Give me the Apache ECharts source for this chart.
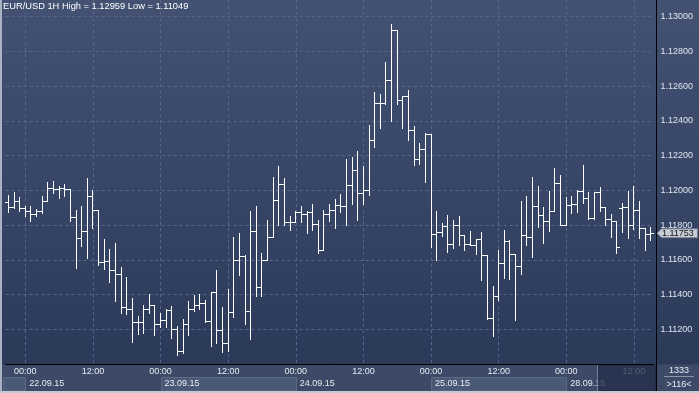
<!DOCTYPE html>
<html><head><meta charset="utf-8">
<script src="https://cdn.jsdelivr.net/npm/echarts@6/dist/echarts.min.js"></script>
<style>html,body{margin:0;padding:0;background:#2c3a5a;overflow:hidden}#c{width:699px;height:393px}</style>
</head><body><div id="c"></div>
<script>
// ---- data ----
const days = ['21.09.15','22.09.15','23.09.15','24.09.15','25.09.15','28.09.15'];
const dayFirstHour = [21, 0, 0, 0, 0, 0];
const dayLastHour  = [23, 23, 23, 23, 23, 15];
const opens = [1.11933,1.11904,1.11937,1.11900,1.11879,1.11865,1.11879,1.11937,1.12013,1.12008,
1.12012,1.12010,1.11846,1.11725,1.11767,1.11967,1.11887,1.11585,1.11592,1.11542,
1.11519,1.11331,1.11315,1.11242,1.11240,1.11317,1.11339,1.11231,1.11254,1.11310,
1.11200,1.11073,1.11231,1.11317,1.11340,1.11354,1.11246,1.11413,1.11196,1.11119,
1.11298,1.11598,1.11623,1.11308,1.11767,1.11444,1.11598,1.11731,1.11946,1.12038,
1.11819,1.11819,1.11877,1.11863,1.11875,1.11808,1.11658,1.11863,1.11889,1.11914,
1.11908,1.12033,1.12117,1.11985,1.12000,1.12292,1.12503,1.12503,1.12635,1.12921,
1.12522,1.12543,1.12349,1.12180,1.12240,1.12326,1.11749,1.11760,1.11795,1.11691,
1.11799,1.11741,1.11691,1.11688,1.11720,1.11626,1.11266,1.11390,1.11582,1.11707,
1.11634,1.11565,1.11745,1.11734,1.11908,1.11858,1.11824,1.11879,1.12042,1.11803,
1.11918,1.11923,1.11994,1.11955,1.11839,1.11991,1.11902,1.11835,1.11822,1.11900,
1.11902,1.11799,1.11885,1.11783,1.11749];
const highs = [1.11971,1.11992,1.11962,1.11908,1.11908,1.11892,1.11969,1.12050,1.12054,1.12027,
1.12035,1.12010,1.11888,1.11908,1.12073,1.12000,1.11887,1.11721,1.11662,1.11698,
1.11558,1.11500,1.11381,1.11279,1.11337,1.11404,1.11339,1.11296,1.11317,1.11333,
1.11221,1.11260,1.11363,1.11396,1.11404,1.11367,1.11415,1.11544,1.11331,1.11433,
1.11733,1.11754,1.11627,1.11879,1.11908,1.11637,1.11827,1.12077,1.12138,1.12071,
1.11850,1.11883,1.11908,1.11883,1.11919,1.11827,1.11885,1.11923,1.11952,1.11981,
1.12182,1.12190,1.12228,1.12138,1.12378,1.12564,1.12556,1.12738,1.12959,1.12921,
1.12545,1.12579,1.12372,1.12272,1.12330,1.12326,1.11883,1.11812,1.11860,1.11831,
1.11851,1.11741,1.11768,1.11722,1.11760,1.11630,1.11448,1.11659,1.11774,1.11713,
1.11634,1.11941,1.11970,1.12079,1.12028,1.11905,1.11994,1.12129,1.12087,1.11962,
1.11966,1.12004,1.12144,1.11989,1.11991,1.12019,1.11902,1.11866,1.11822,1.11927,
1.11994,1.12027,1.11937,1.11783,1.11787];
const lows = [1.11873,1.11898,1.11883,1.11850,1.11825,1.11850,1.11869,1.11937,1.11985,1.11954,
1.11965,1.11823,1.11552,1.11677,1.11612,1.11781,1.11573,1.11548,1.11475,1.11365,
1.11292,1.11289,1.11129,1.11173,1.11181,1.11292,1.11167,1.11215,1.11215,1.11148,
1.11049,1.11062,1.11165,1.11308,1.11319,1.11242,1.11106,1.11119,1.11071,1.11073,
1.11269,1.11515,1.11229,1.11146,1.11389,1.11389,1.11598,1.11731,1.11798,1.11798,
1.11771,1.11819,1.11815,1.11754,1.11773,1.11637,1.11658,1.11822,1.11783,1.11874,
1.11803,1.11922,1.11831,1.11923,1.11975,1.12247,1.12362,1.12497,1.12397,1.12497,
1.12357,1.12292,1.12148,1.12153,1.12046,1.11672,1.11598,1.11736,1.11643,1.11668,
1.11688,1.11659,1.11684,1.11634,1.11482,1.11262,1.11164,1.11371,1.11496,1.11492,
1.11252,1.11519,1.11685,1.11615,1.11787,1.11694,1.11764,1.11879,1.11803,1.11803,
1.11870,1.11874,1.11927,1.11835,1.11835,1.11879,1.11803,1.11732,1.11640,1.11758,
1.11726,1.11778,1.11726,1.11655,1.11712];
const closes = [1.11904,1.11937,1.11900,1.11879,1.11865,1.11879,1.11937,1.12013,1.12008,1.12012,
1.12010,1.11846,1.11725,1.11767,1.11967,1.11887,1.11585,1.11592,1.11542,1.11519,
1.11331,1.11315,1.11242,1.11240,1.11317,1.11339,1.11231,1.11254,1.11310,1.11200,
1.11073,1.11231,1.11317,1.11340,1.11354,1.11246,1.11413,1.11196,1.11119,1.11298,
1.11598,1.11623,1.11308,1.11767,1.11444,1.11598,1.11731,1.11946,1.12038,1.11819,
1.11819,1.11877,1.11863,1.11875,1.11808,1.11658,1.11863,1.11889,1.11914,1.11908,
1.12033,1.12117,1.11985,1.12000,1.12292,1.12503,1.12503,1.12635,1.12921,1.12522,
1.12543,1.12349,1.12180,1.12240,1.12326,1.11749,1.11760,1.11795,1.11691,1.11799,
1.11741,1.11691,1.11688,1.11720,1.11626,1.11266,1.11390,1.11582,1.11707,1.11634,
1.11565,1.11745,1.11734,1.11908,1.11858,1.11824,1.11879,1.12042,1.11803,1.11918,
1.11923,1.11994,1.11955,1.11839,1.11991,1.11902,1.11835,1.11822,1.11674,1.11902,
1.11799,1.11885,1.11783,1.11749,1.11753];
const yMin = 1.110, yMax = 1.132, yStep = 0.002;
const titleText = 'EUR/USD 1H High = 1.12959 Low = 1.11049';
const lastPriceText = '1.11753';
const infoTop = '1333', infoBottom = '>116<';

// ---- categories ----
const cats = [], catDay = [], catHour = [];
days.forEach((d, k) => {
  for (let h = dayFirstHour[k]; h <= dayLastHour[k]; h++) {
    cats.push(d + ' ' + (h < 10 ? '0' + h : h) + ':00');
    catDay.push(d); catHour.push(h);
  }
});
const ohlc = opens.map((o, i) => [i, o, highs[i], lows[i], closes[i]]);

const FONT = 'Liberation Sans, Arial, sans-serif';
const GRID = '#566789';

function renderItem(params, api) {
  const i = api.value(0);
  const ph = api.coord([i, api.value(2)]);
  const pl = api.coord([i, api.value(3)]);
  const po = api.coord([i, api.value(1)]);
  const pc = api.coord([i, api.value(4)]);
  const px = Math.floor(ph[0]);
  const st = { stroke: '#ffffff', lineWidth: 1 };
  const yo = Math.round(po[1]) + 0.5, yc = Math.round(pc[1]) + 0.5;
  return { type: 'group', children: [
    { type: 'line', shape: { x1: px + 0.5, y1: Math.round(ph[1]), x2: px + 0.5, y2: Math.round(pl[1]) + 1 }, style: st },
    { type: 'line', shape: { x1: px - 3, y1: yo, x2: px + 1, y2: yo }, style: st },
    { type: 'line', shape: { x1: px, y1: yc, x2: px + 4, y2: yc }, style: st }
  ]};
}

const chart = echarts.init(document.getElementById('c'), null, { renderer: 'canvas' });
chart.setOption({
  animation: false,
  backgroundColor: { type: 'linear', x: 0, y: 0, x2: 0, y2: 1, colorStops: [
    { offset: 0, color: '#435273' }, { offset: 0.92, color: '#2c3a5a' }, { offset: 1, color: '#2c3a5a' } ] },
  title: { text: titleText, left: 3, top: 2, padding: 0,
    textStyle: { color: '#ffffff', fontSize: 9.3, fontWeight: 'normal', fontFamily: FONT } },
  grid: { left: 5.58, right: 45.4, top: -18, bottom: 29, outerBoundsMode: 'none', containLabel: false },
  xAxis: [
    { type: 'category', data: cats, boundaryGap: true, z: 0,
      axisLine: { show: true, lineStyle: { color: '#000000', width: 1 } },
      axisTick: { show: false },
      axisLabel: { interval: (idx) => catHour[idx] % 12 === 0,
        formatter: (v, idx) => (catHour[idx] < 10 ? '0' + catHour[idx] : catHour[idx]) + ':00',
        color: '#e6ebf3', fontSize: 9, margin: 3, fontFamily: FONT },
      splitLine: { show: true, interval: (idx) => catHour[idx] % 12 === 0, alignWithLabel: true,
        lineStyle: { color: GRID, width: 1, type: [3, 3] } } },
    { type: 'category', data: cats, boundaryGap: true, position: 'bottom', z: 0,
      axisLine: { show: false }, axisTick: { show: false }, splitLine: { show: false },
      axisLabel: { interval: (idx) => catHour[idx] === 0,
        formatter: (v, idx) => catDay[idx], align: 'left', padding: [0, 0, 0, 4],
        color: '#e6ebf3', fontSize: 9, margin: 15, fontFamily: FONT } }
  ],
  yAxis: { type: 'value', position: 'right', min: yMin, max: yMax, interval: yStep, offset: 2.9, z: 0,
    axisLine: { show: true, lineStyle: { color: '#000000', width: 1 } },
    axisTick: { show: false },
    axisLabel: { formatter: (v) => v.toFixed(5), color: '#dfe5ef', fontSize: 9, margin: 4,
      showMinLabel: false, showMaxLabel: false, fontFamily: FONT },
    splitLine: { show: true, lineStyle: { color: GRID, width: 1, type: [3, 3] } } },
  series: [{ type: 'custom', renderItem: renderItem, data: ohlc, xAxisIndex: 0, yAxisIndex: 0,
    encode: { x: 0, y: [1, 2, 3, 4] }, clip: false, z: 3 }]
});

// ---- decorations positioned from the chart's own scales ----
const xAt = (i) => chart.convertToPixel({ xAxisIndex: 0 }, i);
const yAt = (v) => chart.convertToPixel({ yAxisIndex: 0 }, v);
const yBase = yAt(yMin);
const dayStart = [];
catHour.forEach((h, i) => { if (h === 0) dayStart.push(i); });
const boxes = [];
boxes.push([3, xAt(dayStart[0])]);
[1, 3].forEach((k) => { boxes.push([xAt(dayStart[k]), xAt(dayStart[k + 1])]); });
const lastY = yAt(closes[closes.length - 1]);
const axisX = 656;
const gfx = [
  { type: 'rect', z: -10, shape: { x: 0, y: yBase + 0.5, width: 699, height: 393 - yBase }, style: { fill: '#3c4a67' } },
];
boxes.forEach((b) => {
  gfx.push({ type: 'rect', z: -9, shape: { x: Math.round(b[0]) + 0.5, y: 377.5, width: Math.round(b[1] - b[0]), height: 13.5 },
    style: { fill: '#4a5976', stroke: '#5b6985', lineWidth: 1 } });
});
gfx.push(
  { type: 'rect', z: 100, shape: { x: 597.5, y: 365.5, width: axisX - 598, height: 25 }, style: { fill: 'rgba(36,47,74,0.78)', stroke: '#222c45', lineWidth: 1 } },
  { type: 'line', z: 100, shape: { x1: 597.5, y1: 365, x2: 597.5, y2: 391 }, style: { stroke: '#6f7c96', lineWidth: 1 } },
  { type: 'line', z: 100, shape: { x1: axisX + 0.5, y1: yBase, x2: axisX + 0.5, y2: 391 }, style: { stroke: '#000', lineWidth: 1 } },
  { type: 'text', z: 100, x: 679, y: 370.5, style: { text: infoTop, fill: '#e6ebf3', font: '9px ' + FONT, align: 'center', verticalAlign: 'middle' } },
  { type: 'line', z: 100, shape: { x1: 664, y1: 376.5, x2: 694, y2: 376.5 }, style: { stroke: '#8a95aa', lineWidth: 1 } },
  { type: 'text', z: 100, x: 679, y: 384.5, style: { text: infoBottom, fill: '#e6ebf3', font: '9px ' + FONT, align: 'center', verticalAlign: 'middle' } },
  { type: 'polygon', z: 100, shape: { points: [[657, lastY], [661.5, lastY - 4.5], [697.5, lastY - 4.5], [697.5, lastY + 4.5], [661.5, lastY + 4.5]] },
    style: { fill: '#c9cdd6', stroke: '#6b768d', lineWidth: 1 } },
  { type: 'text', z: 101, x: 662, y: lastY + 0.5, style: { text: lastPriceText, fill: '#111111', font: '9px ' + FONT, align: 'left', verticalAlign: 'middle' } },
  { type: 'rect', z: 102, shape: { x: 0, y: 0, width: 2, height: 393 }, style: { fill: '#a9b3c4' } },
  { type: 'rect', z: 102, shape: { x: 0, y: 391, width: 699, height: 2 }, style: { fill: '#c3c9d3' } }
);
chart.setOption({ graphic: { elements: gfx } });
</script>
</body></html>
